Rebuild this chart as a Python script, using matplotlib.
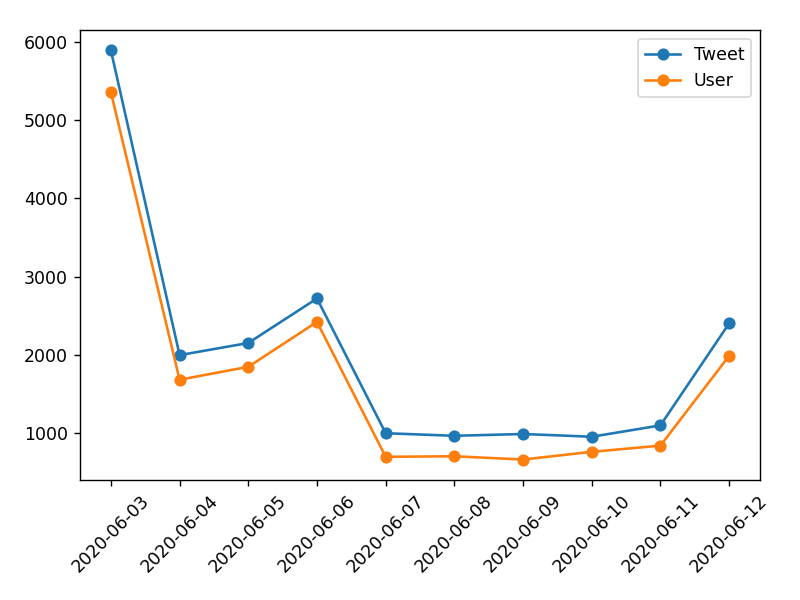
import matplotlib
matplotlib.use("Agg")
import matplotlib.pyplot as plt

dates = ['2020-06-03', '2020-06-04', '2020-06-05', '2020-06-06', '2020-06-07',
         '2020-06-08', '2020-06-09', '2020-06-10', '2020-06-11', '2020-06-12']
tweet = [5895, 1995, 2150, 2720, 995, 962, 985, 950, 1095, 2400]
user = [5360, 1680, 1845, 2420, 693, 700, 658, 757, 836, 1985]

fig, ax = plt.subplots(figsize=(6.4, 4.8), dpi=125)
ax.plot(dates, tweet, marker='o', label='Tweet')
ax.plot(dates, user, marker='o', label='User')
ax.legend(loc='upper right')
plt.xticks(rotation=45)
plt.subplots_adjust(left=0.1, right=0.95, top=0.95, bottom=0.2)
plt.savefig('out.png', dpi=125)
